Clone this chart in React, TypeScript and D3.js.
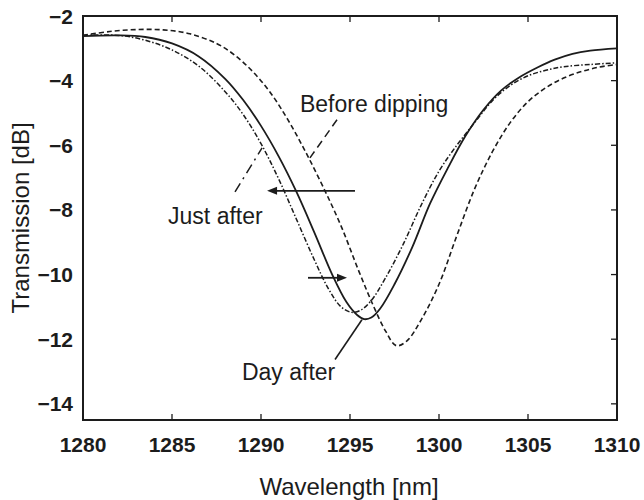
import React from "react";
import * as d3 from "d3";

// Wavelength [nm] and transmission [dB] for each spectrum
const dayAfterX = [1280, 1282, 1283.5, 1285, 1286.5, 1288, 1289, 1290, 1291, 1292, 1293, 1294, 1294.8, 1295.4, 1295.8, 1296.2, 1296.7, 1297.5, 1298.5, 1299.5, 1300.5, 1301.5, 1302.5, 1303.5, 1304.5, 1305.5, 1306.5, 1307.5, 1308.5, 1310];
const dayAfterY = [-2.62, -2.6, -2.65, -2.85, -3.25, -3.95, -4.6, -5.4, -6.35, -7.45, -8.7, -10.0, -10.85, -11.25, -11.38, -11.33, -11.05, -10.3, -9.15, -7.8, -6.7, -5.7, -4.9, -4.3, -3.9, -3.6, -3.35, -3.17, -3.07, -3.0];

const beforeX = [1280, 1281.5, 1283, 1284.5, 1286, 1287.5, 1288.5, 1289.5, 1290.5, 1291.5, 1292.5, 1293.5, 1294.5, 1295.5, 1296.3, 1297, 1297.6, 1298.2, 1299, 1300, 1301, 1302, 1303, 1304, 1305, 1306, 1307, 1308, 1309, 1310];
const beforeY = [-2.6, -2.48, -2.42, -2.43, -2.55, -2.85, -3.2, -3.7, -4.35, -5.2, -6.2, -7.3, -8.5, -9.9, -10.95, -11.75, -12.2, -12.05, -11.4, -10.3, -8.8, -7.35, -6.2, -5.3, -4.65, -4.22, -3.92, -3.72, -3.58, -3.5];

const justAfterX = [1280, 1282, 1283.5, 1285, 1286.5, 1288, 1289, 1290, 1291, 1292, 1293, 1293.8, 1294.5, 1295.1, 1295.6, 1296.2, 1297, 1298, 1299, 1300, 1301, 1302, 1303, 1304, 1305, 1306, 1307, 1308.5, 1310];
const justAfterY = [-2.6, -2.6, -2.75, -3.05, -3.55, -4.35, -5.05, -5.95, -7.05, -8.3, -9.55, -10.45, -11.0, -11.17, -11.1, -10.8, -10.1, -9.05, -7.85, -6.8, -6.0, -5.3, -4.62, -4.15, -3.85, -3.68, -3.57, -3.5, -3.45];

const xTicks = [1280, 1285, 1290, 1295, 1300, 1305, 1310];
const yTicks = [-2, -4, -6, -8, -10, -12, -14];

// Annotations in data coordinates
const labelBefore = { text: "Before dipping", x: 1292.19, y: -4.97 };
const leaderBefore = [[1294.27, -5.21], [1292.75, -6.39]];
const labelJust = { text: "Just after", x: 1284.78, y: -8.43 };
const leaderJust = [[1288.54, -7.44], [1290.06, -6.08]];
const labelDay = { text: "Day after", x: 1288.93, y: -13.25 };
const leaderDay = [[1295.67, -11.4], [1294.16, -12.63]];
const arrowLeft = [[1295.28, -7.41], [1290.34, -7.41]];
const arrowRight = [[1292.64, -10.1], [1294.83, -10.1]];

export default function App() {
  const W = 644, H = 500;
  const m = { left: 83, top: 16, right: 27, bottom: 80 };
  const x = d3.scaleLinear().domain([1280, 1310]).range([m.left, W - m.right]);
  const y = d3.scaleLinear().domain([-14.5, -2]).range([H - m.bottom, m.top]);
  const ink = "#1c1c1c";
  const font = "'Liberation Sans', Arial, Helvetica, sans-serif";

  const mk = (xs: number[], ys: number[]) =>
    d3.line<number>().x((_, i) => x(xs[i])).y((_, i) => y(ys[i])).curve(d3.curveCatmullRom.alpha(0.5))(xs);

  const seg = (p: number[][]) => ({ x1: x(p[0][0]), y1: y(p[0][1]), x2: x(p[1][0]), y2: y(p[1][1]) });

  const arrow = (p: number[][]) => {
    const s = seg(p);
    const dir = Math.sign(s.x2 - s.x1);
    const L = 10, hw = 4;
    const tip = s.x2;
    const head = `M${tip},${s.y2} L${tip - dir * L},${s.y2 - hw} L${tip - dir * L},${s.y2 + hw} Z`;
    return (
      <g>
        <line x1={s.x1} y1={s.y1} x2={tip - dir * L + dir * 1} y2={s.y2} stroke={ink} strokeWidth={1.8} />
        <path d={head} fill={ink} />
      </g>
    );
  };

  const x0 = x(1280), x1 = x(1310), y0 = y(-14.5), y1 = y(-2);
  const tl = 6;

  return (
    <svg width={W} height={H} style={{ position: "absolute", left: 0, top: 0, background: "#fff" }} fontFamily={font}>
      <rect width={W} height={H} fill="#fff" />
      {/* curves */}
      <path d={mk(beforeX, beforeY) || ""} fill="none" stroke={ink} strokeWidth={1.6} strokeDasharray="5 3" />
      <path d={mk(justAfterX, justAfterY) || ""} fill="none" stroke={ink} strokeWidth={1.5} strokeDasharray="5 2 1.5 2" />
      <path d={mk(dayAfterX, dayAfterY) || ""} fill="none" stroke={ink} strokeWidth={1.8} />

      {/* frame */}
      <rect x={x0} y={y1} width={x1 - x0} height={y0 - y1} fill="none" stroke={ink} strokeWidth={2} />
      {xTicks.map((t) => (
        <g key={"xt" + t}>
          <line x1={x(t)} x2={x(t)} y1={y0} y2={y0 - tl} stroke={ink} strokeWidth={1.3} />
          <line x1={x(t)} x2={x(t)} y1={y1} y2={y1 + tl} stroke={ink} strokeWidth={1.3} />
          <text x={x(t)} y={452} textAnchor="middle" fontSize={21} fontWeight="bold" fill={ink}>{t}</text>
        </g>
      ))}
      {yTicks.map((t) => (
        <g key={"yt" + t}>
          <line x1={x1} x2={x1 - tl} y1={y(t)} y2={y(t)} stroke={ink} strokeWidth={1.3} />
          <text x={73} y={y(t) + 7.5} textAnchor="end" fontSize={21} fontWeight="bold" fill={ink}>{"\u2212" + Math.abs(t)}</text>
        </g>
      ))}

      {/* axis titles */}
      <text x={349} y={495} textAnchor="middle" fontSize={24} fill={ink}>Wavelength [nm]</text>
      <text transform={`translate(29, ${(y0 + y1) / 2}) rotate(-90)`} textAnchor="middle" fontSize={24} fill={ink}>Transmission [dB]</text>

      {/* annotations */}
      <text x={x(labelBefore.x)} y={y(labelBefore.y)} fontSize={23} fill={ink}>{labelBefore.text}</text>
      <line {...seg(leaderBefore)} stroke={ink} strokeWidth={1.5} strokeDasharray="8 5" />
      <text x={x(labelJust.x)} y={y(labelJust.y)} fontSize={23} fill={ink}>{labelJust.text}</text>
      <line {...seg(leaderJust)} stroke={ink} strokeWidth={1.5} strokeDasharray="10 5 2 5" />
      <text x={x(labelDay.x)} y={y(labelDay.y)} fontSize={23} fill={ink}>{labelDay.text}</text>
      <line {...seg(leaderDay)} stroke={ink} strokeWidth={1.6} />
      {arrow(arrowLeft)}
      {arrow(arrowRight)}
    </svg>
  );
}
